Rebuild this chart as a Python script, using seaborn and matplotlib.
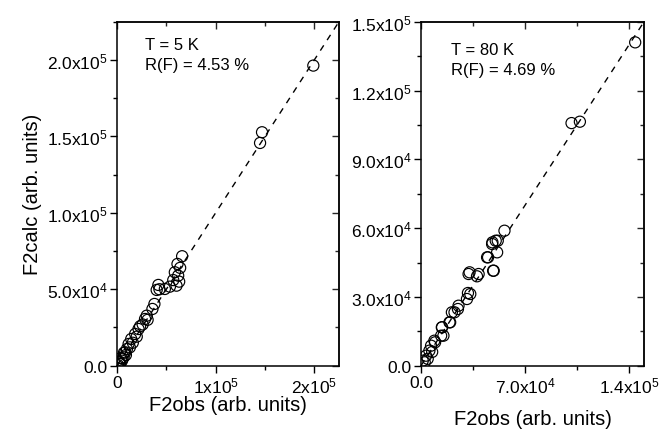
import seaborn as sns
import matplotlib
matplotlib.use('Agg')
import matplotlib.pyplot as plt
import pandas as pd
from matplotlib.ticker import FixedLocator, MultipleLocator

# Data (arb. units)
obs_5k = [199000, 147000, 145000,
          66000, 61300, 58600, 62000, 63000, 60300, 41900, 40200, 48500, 53600,
          37900, 35900, 30150, 28400, 23400, 21800, 18400, 14400, 11760, 10050,
          8340, 6730, 5030, 3300, 2000, 4000, 7000, 9000, 13000, 16000, 20000,
          26000, 31000, 43000, 57000, 64000, 1000, 2500, 5500]
calc_5k = [196300, 152700, 145700,
           71600, 66560, 61130, 58900, 54980, 52360, 52820, 49550, 50200, 51700,
           40380, 37110, 32720, 30560, 25780, 24000, 20740, 17470, 14200, 10930,
           8770, 5500, 3270, 1100, 2500, 5000, 8500, 7000, 12000, 15000, 19000,
           27000, 30000, 50000, 56000, 64000, 400, 1500, 4500]

obs_80k = [144050, 101240, 106860,
           56130, 51600, 47810, 51200, 44430, 48900, 31990, 38750, 33140, 30900,
           25230, 20760, 19610, 14000, 15080, 9470,
           48020, 50250, 45100, 48490, 32670, 37650, 31570, 24820, 22520, 19140,
           14200, 13530, 8990, 6760, 5610, 3380, 1150, 2500, 4500, 7500]
calc_80k = [141000, 105800, 106400,
            58860, 54500, 53060, 49440, 47260, 41420, 39980, 39980, 31260, 29080,
            26160, 23280, 18920, 16740, 13080, 10200,
            53800, 54500, 47260, 41420, 40720, 38980, 31700, 24720, 23280, 18920,
            16740, 13080, 10900, 8720, 6540, 4360, 2180, 1500, 3000, 6000]

labels_5k = ['T = 5 K', 'R(F) = 4.53 %']
labels_80k = ['T = 80 K', 'R(F) = 4.69 %']

sns.set_style('ticks')
plt.rcParams['font.family'] = ['Liberation Sans', 'DejaVu Sans']
plt.rcParams['mathtext.fontset'] = 'custom'
plt.rcParams['mathtext.rm'] = 'Liberation Sans'
plt.rcParams['mathtext.it'] = 'Liberation Sans'
plt.rcParams['text.color'] = 'black'
plt.rcParams['axes.labelcolor'] = 'black'

fig = plt.figure(figsize=(6.6, 4.31), dpi=100)
ax1 = fig.add_axes([0.1773, 0.1492, 0.3363, 0.7981])
ax2 = fig.add_axes([0.6379, 0.1492, 0.3379, 0.7981])


def sci(v):
    if v == 0:
        return '0.0'
    e = len(str(int(v))) - 1
    return '%.1fx10$^{%d}$' % (v / 10 ** e, e)


def panel(ax, xs, ys, lim, xticks, xlabels, yticks, xminor, yminor, txt, tpos, lpad):
    df = pd.DataFrame({'obs': xs, 'calc': ys})
    ax.plot([0, lim], [0, lim], ls=(0, (4.5, 4.5)), color='black', lw=1.0, zorder=1)
    sns.scatterplot(data=df, x='obs', y='calc', ax=ax, marker='o', s=64,
                    color='black', linewidth=0.85, zorder=2, legend=False)
    coll = ax.collections[-1]
    coll.set_facecolor('none')
    coll.set_edgecolor('black')
    ax.set_xlim(0, lim)
    ax.set_ylim(0, lim)
    ax.xaxis.set_major_locator(FixedLocator(xticks))
    ax.set_xticklabels(xlabels)
    ax.yaxis.set_major_locator(FixedLocator(yticks))
    ax.set_yticklabels([sci(v) for v in yticks])
    ax.xaxis.set_minor_locator(MultipleLocator(xminor))
    ax.yaxis.set_minor_locator(MultipleLocator(yminor))
    ax.tick_params(which='both', direction='out', labelsize=12.5, width=1,
                   colors='black', pad=2)
    ax.tick_params(which='major', length=5)
    ax.tick_params(which='minor', length=3)
    for s in ax.spines.values():
        s.set_linewidth(1.1)
        s.set_color('black')
    # mirror ticks pointing inward on top and right
    for side in ('top', 'right'):
        sec = ax.secondary_xaxis('top') if side == 'top' else ax.secondary_yaxis('right')
        axis = sec.xaxis if side == 'top' else sec.yaxis
        axis.set_major_locator(FixedLocator(xticks if side == 'top' else yticks))
        axis.set_minor_locator(MultipleLocator(xminor if side == 'top' else yminor))
        sec.tick_params(which='both', direction='in', labelleft=False,
                        labelright=False, labeltop=False, width=1)
        sec.tick_params(which='major', length=5)
        sec.tick_params(which='minor', length=3)
        sec.spines[side].set_linewidth(1.1)
    ax.set_xlabel('F2obs (arb. units)', fontsize=14.5, labelpad=lpad)
    ax.set_ylabel('')
    ax.text(tpos[0], tpos[1], txt[0], transform=ax.transAxes, fontsize=12,
            va='center', ha='left')
    ax.text(tpos[0], tpos[1] - 0.06, txt[1], transform=ax.transAxes, fontsize=12,
            va='center', ha='left')


panel(ax1, obs_5k, calc_5k, 225000, [0, 100000, 200000],
      ['0', '1x10$^{5}$', '2x10$^{5}$'],
      [0, 50000, 100000, 150000, 200000], 50000, 25000, labels_5k,
      (0.128, 0.935), 0)
panel(ax2, obs_80k, calc_80k, 150000, [0, 70000, 140000],
      ['0.0', '7.0x10$^{4}$', '1.4x10$^{5}$'],
      [0, 30000, 60000, 90000, 120000, 150000], 35000, 15000, labels_80k,
      (0.135, 0.92), 9.5)

ax1.set_ylabel('F2calc (arb. units)', fontsize=14.5, labelpad=3)

fig.savefig('out.png', dpi=100)
